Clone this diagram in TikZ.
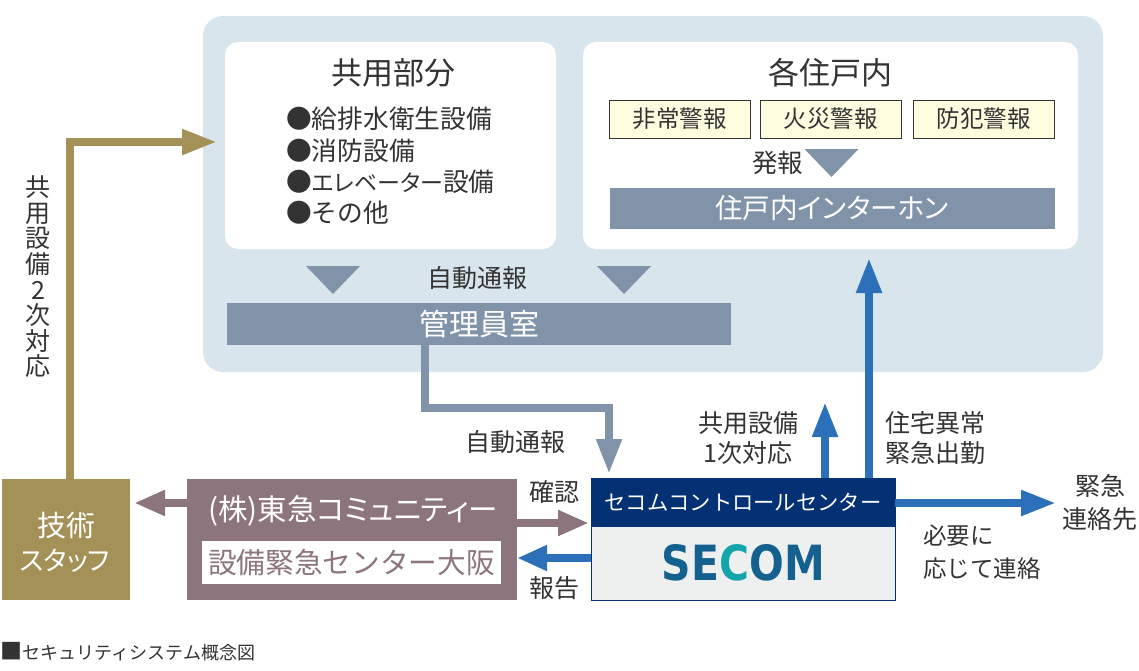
\documentclass[tikz,border=0pt]{standalone}
\usepackage{fontspec}
\setmainfont{Noto Sans CJK JP}
\newfontfamily\logofont{DejaVu Sans}
\usetikzlibrary{arrows.meta}
\definecolor{bgblue}{HTML}{D9E5ED}
\definecolor{slategrey}{HTML}{8193A8}
\definecolor{secomblue}{HTML}{2B70B8}
\definecolor{goldbox}{HTML}{A39157}
\definecolor{mauvebox}{HTML}{8D757E}
\definecolor{navyhead}{HTML}{033174}
\definecolor{palegrey}{HTML}{EEF0F0}
\definecolor{paleyellow}{HTML}{FFFDE0}
\definecolor{inktext}{HTML}{333333}
\definecolor{logoblue}{HTML}{14618F}
\definecolor{logoteal}{HTML}{14A4AC}
\tikzset{
	fs/.style={font=\fontsize{#1}{#1}\selectfont},
	fsp/.style={font=\fontsize{#1}{#1}\selectfont\addfontfeatures{RawFeature=+palt}},
	lab/.style={inner sep=0pt, text=inktext, align=center},
	whitebox/.style={rectangle, rounded corners=13pt, fill=white, inner sep=0pt},
	alarmbox/.style={rectangle, draw=inktext, line width=0.8pt, fill=paleyellow, minimum width=141pt, minimum height=38pt, inner sep=0pt, text=inktext, fs=23.5},
	barbox/.style={rectangle, fill=slategrey, inner sep=0pt, text=white},
	arrowline/.style={line width=8pt, -{Triangle[length=#1, width=24pt]}}
}

\begin{document}
\begin{tikzpicture}[x=1pt,y=-1pt]
	\useasboundingbox (0,0) rectangle (1139,670);
	\fill[bgblue, rounded corners=20pt] (203,16) rectangle (1103,372);

	% upper boxes
	\node[whitebox, minimum width=331pt, minimum height=207pt] (kyoyo) at (390.5,145.5) {};
	\node[whitebox, minimum width=495pt, minimum height=207pt] (juko) at (830.5,145.5) {};
	\node[lab, fs=31] (kyoyotitle) at (393,73) {共用部分};
	\node[lab, fs=31] (jukotitle) at (830,73) {各住戸内};
	\node[lab, fs=25.7, anchor=west] (item1) at (286,119) {●給排水衛生設備};
	\node[lab, fs=25.7, anchor=west] (item2) at (286,151) {●消防設備};
	\node[lab, fsp=25.7, anchor=west] (item3) at (286,182) {●{\fontsize{23}{23}\selectfont エレベーター}設備};
	\node[lab, fs=25.7, anchor=west] (item4) at (286,213) {●その他};

	\node[alarmbox] (hijo) at (679.5,119) {非常警報};
	\node[alarmbox] (kasai) at (830.5,119) {火災警報};
	\node[alarmbox] (bohan) at (983.5,119) {防犯警報};
	\node[lab, fs=25.5] (hatsuho) at (777.5,163) {発報};
	\node[barbox, minimum width=445pt, minimum height=41pt, fsp=27.5] (intercom) at (832,208.5) {住戸内インターホン};

	\node[lab, fs=25] (jidou1) at (477.5,278) {自動通報};
	\node[barbox, minimum width=504pt, minimum height=42pt, fs=30] (kanri) at (479,324) {管理員室};

	% triangles
	\foreach \x/\y in {831.5/149, 333/266, 624/266}
		\fill[slategrey] (\x-27,\y) -- (\x+27,\y) -- (\x,\y+28) -- cycle;

	% lower boxes
	\node[rectangle, fill=goldbox, minimum width=128pt, minimum height=121pt, inner sep=0pt] (gijutsu) at (65.5,539.5) {};
	\node[inner sep=0pt, text=white, fs=29] (gijutsu1) at (66,525) {技術};
	\node[inner sep=0pt, text=white, fsp=26.5] (gijutsu2) at (65,561) {スタッフ};

	\node[rectangle, fill=mauvebox, minimum width=330pt, minimum height=121pt, inner sep=0pt] (tokyu) at (352,539.5) {};
	\node[inner sep=0pt, text=white, fsp=29.5] (tokyu1) at (353,511) {(株)東急コミュニティー};
	\node[rectangle, fill=white, minimum width=299pt, minimum height=43pt, inner sep=0pt, text=mauvebox, fs=28.7] (tokyu2) at (351.5,562.5) {設備緊急センター大阪};

	\node[rectangle, draw=navyhead, line width=1pt, fill=palegrey, minimum width=304pt, minimum height=122pt, inner sep=0pt] (secom) at (743,539) {};
	\node[rectangle, fill=navyhead, minimum width=304pt, minimum height=49pt, inner sep=0pt, text=white, fs=21.3] (secomhead) at (743,502.5) {セコムコントロールセンター};
	\node[inner sep=0pt] (secomlogo) at (743.5,563) {\resizebox{163pt}{36pt}{\logofont\bfseries\textcolor{logoblue}{SE}\textcolor{logoteal}{C}\textcolor{logoblue}{OM}}};

	% labels
	\node[lab, fs=25, text width=30pt] (nijitaio) at (38,277) {共\\[0.6pt]用\\[0.6pt]設\\[0.6pt]備\\[0.6pt]2\\[0.6pt]次\\[0.6pt]対\\[0.6pt]応};
	\node[lab, fs=25] (jidou2) at (515.5,442) {自動通報};
	\node[lab, fs=25] (ichiji) at (748,438) {共用設備\\[5pt]1次対応};
	\node[lab, fs=25] (shutsudo) at (935,438) {住宅異常\\[5pt]緊急出勤};
	\node[lab, fs=25] (kinkyu) at (1100,503) {緊急\\[8pt]連絡先};
	\node[lab, fs=23.5, align=left] (hitsuyo) at (982,552) {必要に\\[9pt]応じて連絡};
	\node[lab, fs=25] (kakunin) at (554.5,492) {確認};
	\node[lab, fs=25] (hokoku) at (554,588) {報告};
	\node[lab, fs=18, anchor=west] (caption) at (0.5,652) {{\fontsize{22}{22}\selectfont ■}セキュリティシステム概念図};

	% free ends
	\coordinate (goldturn) at (70,142);
	\coordinate (goldtip) at (217,142);
	\coordinate (greytop) at (425,345);
	\coordinate (greyturn) at (609,408);
	\coordinate (greytip) at (609,474);
	\coordinate (uptip1) at (825,402);
	\coordinate (uptip2) at (869,258);
	\coordinate (righttip) at (1056,503);
	\coordinate (lefttip) at (134,503);
	\coordinate (mauvetip) at (589,523);
	\coordinate (bluetip) at (517,558);

	% arrows
	\draw[arrowline=35pt, goldbox] (goldturn |- gijutsu.north) -- (goldturn) -- (goldtip);
	\draw[arrowline=35pt, slategrey] (greytop |- kanri.south) -- (greytop |- greyturn) -- (greyturn) -- (greytip);
	\draw[arrowline=35pt, secomblue] (uptip1 |- secomhead.north) -- (uptip1);
	\draw[arrowline=35pt, secomblue] (uptip2 |- secomhead.north) -- (uptip2);
	\draw[arrowline=35pt, secomblue] (righttip -| secomhead.east) -- (righttip);
	\draw[arrowline=31pt, mauvebox] (lefttip -| tokyu.west) -- (lefttip);
	\draw[arrowline=31pt, mauvebox] (mauvetip -| tokyu.east) -- (mauvetip);
	\draw[arrowline=30pt, secomblue] (bluetip -| secom.west) -- (bluetip);
\end{tikzpicture}
\end{document}
